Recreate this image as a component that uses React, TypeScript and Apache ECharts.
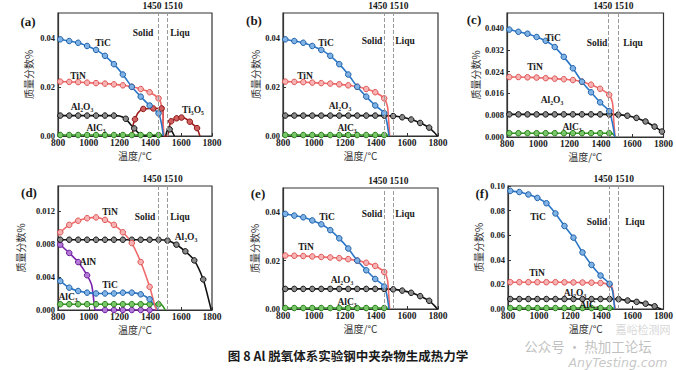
import React, { useEffect, useRef } from "react";
import * as echarts from "echarts";

type P = [number, number, number]; // [temperature, mass fraction, marker shown]

const X_MIN = 800;
const X_MAX = 1800;
const X_STEP = 200;
const SOLIDUS = 1450;
const LIQUIDUS = 1510;

// ---------- panel (a) ----------
const A_TiC: P[] = [[800,0.0395,0],[815,0.0393,1],[873,0.0386,1],[931,0.0379,1],[989,0.0366,1],[1047,0.0350,1],[1105,0.0326,1],[1163,0.0292,1],[1221,0.0250,1],[1279,0.0200,1],[1337,0.0160,1],[1395,0.0124,1],[1453,0.0092,1],[1472,0.0050,0],[1484,0,0]];
const A_TiN: P[] = [[800,0.0222,0],[815,0.0221,1],[873,0.0220,1],[931,0.0219,1],[989,0.0217,1],[1047,0.0215,1],[1105,0.0213,1],[1163,0.0210,1],[1221,0.0206,1],[1279,0.0200,1],[1337,0.0191,1],[1395,0.0178,1],[1453,0.0153,1],[1474,0.0120,0],[1482,0.0060,0],[1488,0,0]];
const A_Al2O3: P[] = [[800,0.0083,0],[815,0.0083,1],[873,0.0083,1],[931,0.0083,1],[989,0.0083,1],[1047,0.0083,1],[1105,0.0083,1],[1163,0.0083,1],[1200,0.0081,0],[1240,0.0070,1],[1270,0.0048,0],[1295,0.0031,1],[1325,0.0010,0],[1342,0,0],[1495,0,0],[1508,0.0020,0],[1525,0.0027,1],[1540,0.0018,0],[1556,0,0]];
const A_AlC3: P[] = [[800,0.0004,0],[815,0.0004,1],[873,0.0004,1],[931,0.0004,1],[989,0.0004,1],[1047,0.0004,1],[1105,0.0004,1],[1163,0.0004,1],[1221,0.0004,1],[1279,0.0004,1],[1337,0.0004,1],[1395,0.0004,1],[1453,0.0004,1],[1472,0.0003,0],[1482,0,0]];
const A_Ti3O5: P[] = [[1285,0,0],[1288,0.0045,0],[1300,0.0068,1],[1320,0.0095,0],[1354,0.0110,1],[1419,0.0112,1],[1473,0.0112,1],[1481,0.0110,0],[1484,0,0],[1510,0,0],[1520,0.0030,0],[1535,0.0060,1],[1570,0.0072,1],[1602,0.0075,1],[1630,0.0070,0],[1656,0.0058,1],[1703,0.0032,1],[1715,0.0012,0],[1722,0,0]];

// ---------- panels (b) and (e) ----------
const B_TiC: P[] = [[800,0.0395,0],[815,0.0393,1],[873,0.0386,1],[931,0.0379,1],[989,0.0366,1],[1047,0.0350,1],[1105,0.0326,1],[1163,0.0292,1],[1221,0.0250,1],[1279,0.0200,1],[1337,0.0160,1],[1395,0.0124,1],[1453,0.0093,1],[1472,0.0050,0],[1484,0,0]];
const B_TiN: P[] = [[800,0.0222,0],[815,0.0221,1],[873,0.0220,1],[931,0.0219,1],[989,0.0217,1],[1047,0.0215,1],[1105,0.0213,1],[1163,0.0210,1],[1221,0.0206,1],[1279,0.0200,1],[1337,0.0191,1],[1395,0.0178,1],[1453,0.0153,1],[1474,0.0120,0],[1482,0.0060,0],[1488,0,0]];
const B_Al2O3: P[] = [[800,0.0083,0],[815,0.0083,1],[873,0.0083,1],[931,0.0083,1],[989,0.0083,1],[1047,0.0083,1],[1105,0.0083,1],[1163,0.0083,1],[1221,0.0083,1],[1279,0.0083,1],[1337,0.0083,1],[1395,0.0083,1],[1453,0.0083,1],[1511,0.0081,1],[1569,0.0076,1],[1627,0.0067,1],[1685,0.0053,1],[1743,0.0034,1],[1775,0.0015,0],[1796,0,0]];
const B_AlC3: P[] = [[800,0.0004,0],[815,0.0004,1],[873,0.0004,1],[931,0.0004,1],[989,0.0004,1],[1047,0.0004,1],[1105,0.0004,1],[1163,0.0004,1],[1221,0.0004,1],[1279,0.0004,1],[1337,0.0004,1],[1395,0.0004,1],[1453,0.0004,1],[1472,0.0003,0],[1482,0,0]];

// ---------- panel (c) ----------
const C_TiC: P[] = [[800,0.0396,0],[815,0.0394,1],[873,0.0386,1],[931,0.0379,1],[989,0.0367,1],[1047,0.0353,1],[1105,0.0330,1],[1163,0.0294,1],[1221,0.0252,1],[1279,0.0203,1],[1337,0.0164,1],[1395,0.0127,1],[1453,0.0095,1],[1474,0.0050,0],[1489,0,0]];
const C_TiN: P[] = [[800,0.0221,0],[815,0.0220,1],[873,0.0220,1],[931,0.0219,1],[989,0.0218,1],[1047,0.0216,1],[1105,0.0214,1],[1163,0.0212,1],[1221,0.0209,1],[1279,0.0203,1],[1337,0.0192,1],[1395,0.0177,1],[1453,0.0155,1],[1474,0.0125,0],[1482,0.0060,0],[1490,0,0]];
const C_Al2O3: P[] = [[800,0.0083,0],[815,0.0083,1],[873,0.0083,1],[931,0.0083,1],[989,0.0083,1],[1047,0.0083,1],[1105,0.0083,1],[1163,0.0083,1],[1221,0.0083,1],[1279,0.0083,1],[1337,0.0083,1],[1395,0.0083,1],[1453,0.0083,1],[1511,0.0082,1],[1569,0.0078,1],[1627,0.0070,1],[1685,0.0057,1],[1743,0.0038,1],[1790,0.0020,1],[1800,0.0012,0]];
const C_AlC3: P[] = [[800,0.0014,0],[815,0.0014,1],[873,0.0014,1],[931,0.0014,1],[989,0.0014,1],[1047,0.0014,1],[1105,0.0014,1],[1163,0.0014,1],[1221,0.0014,1],[1279,0.0014,1],[1337,0.0014,1],[1395,0.0014,1],[1453,0.0014,1],[1474,0.0012,0],[1487,0.0005,0],[1496,0,0]];

// ---------- panel (d) ----------
const D_TiN: P[] = [[800,0.0090,0],[815,0.0094,1],[873,0.0103,1],[931,0.0108,1],[989,0.0111,1],[1047,0.0112,1],[1105,0.0109,1],[1163,0.0103,1],[1221,0.0094,1],[1279,0.0081,1],[1337,0.0058,1],[1395,0.0028,1],[1425,0.0008,0],[1440,0,0]];
const D_Al2O3: P[] = [[800,0.0085,0],[815,0.0085,1],[873,0.0085,1],[931,0.0085,1],[989,0.0085,1],[1047,0.0085,1],[1105,0.0085,1],[1163,0.0085,1],[1221,0.0085,1],[1279,0.0085,1],[1337,0.0085,1],[1395,0.0085,1],[1453,0.0085,1],[1511,0.0084,1],[1569,0.0079,1],[1627,0.0071,1],[1685,0.0060,1],[1743,0.0037,1],[1775,0.0015,0],[1795,0,0]];
const D_AlN: P[] = [[800,0.0082,0],[815,0.0079,1],[873,0.0069,1],[931,0.0058,1],[989,0.0042,1],[1019,0.0030,0],[1036,0.0006,0],[1044,0,0],[1105,0,1],[1163,0,1],[1221,0,1],[1279,0,1],[1337,0,1],[1395,0,1],[1440,0,0]];
const D_TiC: P[] = [[800,0.0037,0],[815,0.0035,1],[873,0.0027,1],[931,0.0023,1],[989,0.0021,1],[1047,0.0020,1],[1105,0.0020,1],[1163,0.0020,1],[1221,0.0021,1],[1279,0.0021,1],[1337,0.0019,1],[1395,0.0013,1],[1430,0.0005,0],[1448,0,0]];
const D_AlC3: P[] = [[800,0.0007,0],[815,0.0007,1],[873,0.0007,1],[931,0.0007,1],[989,0.0007,1],[1047,0.0007,1],[1105,0.0007,1],[1163,0.0007,1],[1221,0.0007,1],[1279,0.0007,1],[1337,0.0007,1],[1395,0.0007,1],[1453,0.0007,1],[1476,0.0006,0],[1490,0.0002,0],[1497,0,0]];

// ---------- panel (f) ----------
const F_TiC: P[] = [[800,0.0965,0],[815,0.0960,1],[873,0.0951,1],[931,0.0931,1],[989,0.0903,1],[1047,0.0860,1],[1105,0.0777,1],[1163,0.0675,1],[1221,0.0580,1],[1279,0.0460,1],[1337,0.0358,1],[1395,0.0272,1],[1453,0.0205,1],[1472,0.0150,0],[1486,0,0]];
const F_TiN: P[] = [[800,0.0218,0],[815,0.0218,1],[873,0.0218,1],[931,0.0218,1],[989,0.0218,1],[1047,0.0218,1],[1105,0.0218,1],[1163,0.0217,1],[1221,0.0216,1],[1279,0.0215,1],[1337,0.0214,1],[1395,0.0211,1],[1453,0.0197,1],[1475,0.0150,0],[1483,0.0050,0],[1490,0,0]];
const F_Al2O3: P[] = [[800,0.0081,0],[815,0.0081,1],[873,0.0081,1],[931,0.0081,1],[989,0.0081,1],[1047,0.0081,1],[1105,0.0081,1],[1163,0.0081,1],[1221,0.0081,1],[1279,0.0081,1],[1337,0.0081,1],[1395,0.0081,1],[1453,0.0081,1],[1511,0.0080,1],[1569,0.0069,1],[1627,0.0058,1],[1685,0.0043,1],[1743,0.0022,1],[1775,0.0004,0],[1785,0,0]];
const F_AlC3: P[] = [[800,0.0008,0],[815,0.0008,1],[873,0.0008,1],[931,0.0008,1],[989,0.0008,1],[1047,0.0008,1],[1105,0.0008,1],[1163,0.0008,1],[1221,0.0008,1],[1279,0.0008,1],[1337,0.0008,1],[1395,0.0008,1],[1453,0.0008,1],[1472,0.0007,0],[1485,0,0]];

// y-axis setups per panel
const Y_MAX = [0.05, 0.05, 0.0455, 0.015, 0.05, 0.10];
const Y_STEP = [0.02, 0.02, 0.008, 0.004, 0.02, 0.02];
const Y_DEC = [2, 2, 3, 3, 2, 2];
const PANEL_TAGS = ["(a)", "(b)", "(c)", "(d)", "(e)", "(f)"];
const CAPTION = "图 8 Al 脱氧体系实验钢中夹杂物生成热力学";

const COLORS: Record<string, [string, string, string]> = {
  TiC: ["#2a77c9", "#7fb3e6", "#1d5ea6"],
  TiN: ["#f06a6a", "#f7b3b3", "#df5252"],
  Al2O3: ["#111111", "#8a8a8a", "#111111"],
  AlC3: ["#2f9a1f", "#78c768", "#257a17"],
  AlN: ["#7a22ad", "#b27ad6", "#6a1a9a"],
  Ti3O5: ["#a11d1d", "#d06060", "#8a1414"],
};

const GRIDS = [
  { left: 58, top: 13, width: 154, height: 123 },
  { left: 283, top: 13, width: 155, height: 123 },
  { left: 507, top: 13, width: 157, height: 124 },
  { left: 58, top: 186, width: 154, height: 124 },
  { left: 283, top: 188, width: 155, height: 121 },
  { left: 508, top: 186, width: 158, height: 123 },
];
const Y_NAME_GAP = [25, 23, 24, 33, 24, 25];

const SERIF = "'Liberation Serif', 'Times New Roman', serif";
const CJK = "'Noto Sans CJK SC', sans-serif";

function mkSeries(key: string, data: P[], idx: number, withMarkLine = false) {
  const [line, fill, border] = COLORS[key];
  const s: any = {
    type: "line",
    name: key + idx,
    xAxisIndex: idx,
    yAxisIndex: idx,
    data: data.map((p) => ({ value: [p[0], p[1]], symbol: p[2] ? "circle" : "none" })),
    smooth: 0.25,
    symbolSize: 5.5,
    lineStyle: { color: line, width: 1.6 },
    itemStyle: { color: fill, borderColor: border, borderWidth: 1 },
    clip: true,
    silent: true,
  };
  if (withMarkLine) {
    s.markLine = {
      silent: true,
      symbol: ["none", "none"],
      label: { show: false },
      lineStyle: { type: "dashed", color: "#9a9a9a", width: 1 },
      data: [{ xAxis: SOLIDUS }, { xAxis: LIQUIDUS }],
    };
  }
  return s;
}

type Ann = [number, number, string];
const ANNOTATIONS: Ann[][] = [
  [[103, 43, "TiC"], [78, 76, "TiN"], [82, 107, "Al₂O₃"], [96, 128, "AlC₃"], [193, 110, "Ti₃O₅"], [143, 33, "Solid"], [180, 33, "Liqu"]],
  [[326, 43, "TiC"], [305, 76, "TiN"], [340, 106, "Al₂O₃"], [347, 128, "AlC₃"], [372, 41, "Solid"], [405, 41, "Liqu"]],
  [[553, 38, "TiC"], [535, 67, "TiN"], [552, 100, "Al₂O₃"], [572, 127, "AlC₃"], [597, 43, "Solid"], [633, 43, "Liqu"]],
  [[110, 212, "TiN"], [145, 217, "Solid"], [180, 217, "Liqu"], [186, 237, "Al₂O₃"], [88, 262, "AlN"], [110, 285, "TiC"], [68, 297, "AlC₃"]],
  [[327, 217, "TiC"], [306, 247, "TiN"], [342, 280, "Al₂O₃"], [347, 302, "AlC₃"], [372, 214, "Solid"], [405, 214, "Liqu"]],
  [[538, 217, "TiC"], [597, 222, "Solid"], [635, 222, "Liqu"], [537, 273, "TiN"], [575, 293, "Al₂O₃"], [589, 305, "AlC₃"]],
];
const TAG_POS: [number, number][] = [[28, 21], [254, 20], [474, 19], [29, 192], [258, 193], [482, 193]];

function txt(x: number, y: number, text: string, size: number, opts: any = {}) {
  return {
    type: "text",
    x,
    y,
    silent: true,
    z: 100,
    style: {
      text,
      fill: opts.fill || "#1a1a1a",
      font: `${opts.italic ? "italic " : ""}${opts.weight || "bold"} ${size}px ${opts.family || SERIF}`,
      align: opts.align || "center",
      verticalAlign: opts.valign || "middle",
      textAlign: opts.align || "center",
      textVerticalAlign: opts.valign || "middle",
    },
  };
}

export default function App() {
  const ref = useRef<HTMLDivElement>(null);
  useEffect(() => {
    if (!ref.current) return;
    const chart = echarts.init(ref.current, undefined, { renderer: "svg" });

    const xAxis = GRIDS.map((_, i) => ({
      type: "value",
      gridIndex: i,
      min: X_MIN,
      max: X_MAX,
      interval: X_STEP,
      name: "温度/°C",
      nameLocation: "middle",
      nameGap: 14,
      nameTextStyle: { fontFamily: CJK, fontSize: 10, color: "#333" },
      axisLine: { show: true, lineStyle: { color: "#333", width: 1.2 } },
      axisTick: { show: true, inside: true, length: 3, lineStyle: { color: "#333" } },
      axisLabel: {
        fontFamily: SERIF,
        fontWeight: "bold",
        fontSize: 9.5,
        color: "#222",
        margin: 2,
        formatter: (v: number) => String(v),
      },
      splitLine: { show: false },
    }));
    const yAxis = GRIDS.map((_, i) => ({
      type: "value",
      gridIndex: i,
      min: 0,
      max: Y_MAX[i],
      interval: Y_STEP[i],
      name: "质量分数%",
      nameLocation: "middle",
      nameGap: Y_NAME_GAP[i],
      nameTextStyle: { fontFamily: CJK, fontSize: 10, color: "#333" },
      axisLine: { show: true, lineStyle: { color: "#333", width: 1.2 } },
      axisTick: { show: true, inside: true, length: 3, lineStyle: { color: "#333" } },
      axisLabel: {
        fontFamily: SERIF,
        fontWeight: "bold",
        fontSize: 8.5,
        color: "#222",
        margin: 3,
        showMaxLabel: Math.abs(Y_MAX[i] / Y_STEP[i] - Math.round(Y_MAX[i] / Y_STEP[i])) < 1e-6,
        formatter: (v: number) => v.toFixed(Y_DEC[i]),
      },
      splitLine: { show: false },
    }));

    const series: any[] = [
      mkSeries("AlC3", A_AlC3, 0, true),
      mkSeries("Al2O3", A_Al2O3, 0),
      mkSeries("Ti3O5", A_Ti3O5, 0),
      mkSeries("TiN", A_TiN, 0),
      mkSeries("TiC", A_TiC, 0),

      mkSeries("AlC3", B_AlC3, 1, true),
      mkSeries("Al2O3", B_Al2O3, 1),
      mkSeries("TiN", B_TiN, 1),
      mkSeries("TiC", B_TiC, 1),

      mkSeries("AlC3", C_AlC3, 2, true),
      mkSeries("Al2O3", C_Al2O3, 2),
      mkSeries("TiN", C_TiN, 2),
      mkSeries("TiC", C_TiC, 2),

      mkSeries("AlN", D_AlN, 3, true),
      mkSeries("AlC3", D_AlC3, 3),
      mkSeries("TiC", D_TiC, 3),
      mkSeries("Al2O3", D_Al2O3, 3),
      mkSeries("TiN", D_TiN, 3),

      mkSeries("AlC3", B_AlC3, 4, true),
      mkSeries("Al2O3", B_Al2O3, 4),
      mkSeries("TiN", B_TiN, 4),
      mkSeries("TiC", B_TiC, 4),

      mkSeries("AlC3", F_AlC3, 5, true),
      mkSeries("Al2O3", F_Al2O3, 5),
      mkSeries("TiN", F_TiN, 5),
      mkSeries("TiC", F_TiC, 5),
    ];

    chart.setOption({
      animation: false,
      backgroundColor: "#ffffff",
      grid: GRIDS.map((g) => ({ ...g, show: true, borderColor: "#333", borderWidth: 1.2, backgroundColor: "transparent" })),
      xAxis,
      yAxis,
      series,
    });

    const graphic: any[] = [];
    GRIDS.forEach((g, i) => {
      const x1 = chart.convertToPixel({ xAxisIndex: i } as any, SOLIDUS) as number;
      const x2 = chart.convertToPixel({ xAxisIndex: i } as any, LIQUIDUS) as number;
      graphic.push(txt(x1 + 3.5, g.top - 7, String(SOLIDUS), 9.5, { align: "right" }));
      graphic.push(txt(x2 - 3.5, g.top - 7, String(LIQUIDUS), 9.5, { align: "left" }));
      graphic.push(txt(TAG_POS[i][0], TAG_POS[i][1], PANEL_TAGS[i], 13));
      ANNOTATIONS[i].forEach(([x, y, t]) => {
        graphic.push(txt(x, y, t, 9.5));
      });
    });
    // caption
    graphic.push(txt(348, 355, CAPTION, 12.5, { family: CJK }));
    // watermark (kept clear of the chart's own texts)
    graphic.push(txt(643, 329, "嘉峪检测网", 11, { family: CJK, fill: "rgba(160,160,160,0.45)", weight: "normal" }));
    graphic.push(txt(588, 346, "公众号 · 热加工论坛", 13.5, { family: CJK, fill: "rgba(130,130,130,0.5)", weight: "normal" }));
    graphic.push(txt(618, 362, "AnyTesting.com", 12.5, { family: "'DejaVu Sans', sans-serif", fill: "rgba(150,150,150,0.55)", weight: "normal", italic: true }));

    chart.setOption({ graphic });

    return () => chart.dispose();
  }, []);
  return <div ref={ref} style={{ position: "fixed", left: 0, top: 0, width: 676, height: 370, background: "#fff" }} />;
}
